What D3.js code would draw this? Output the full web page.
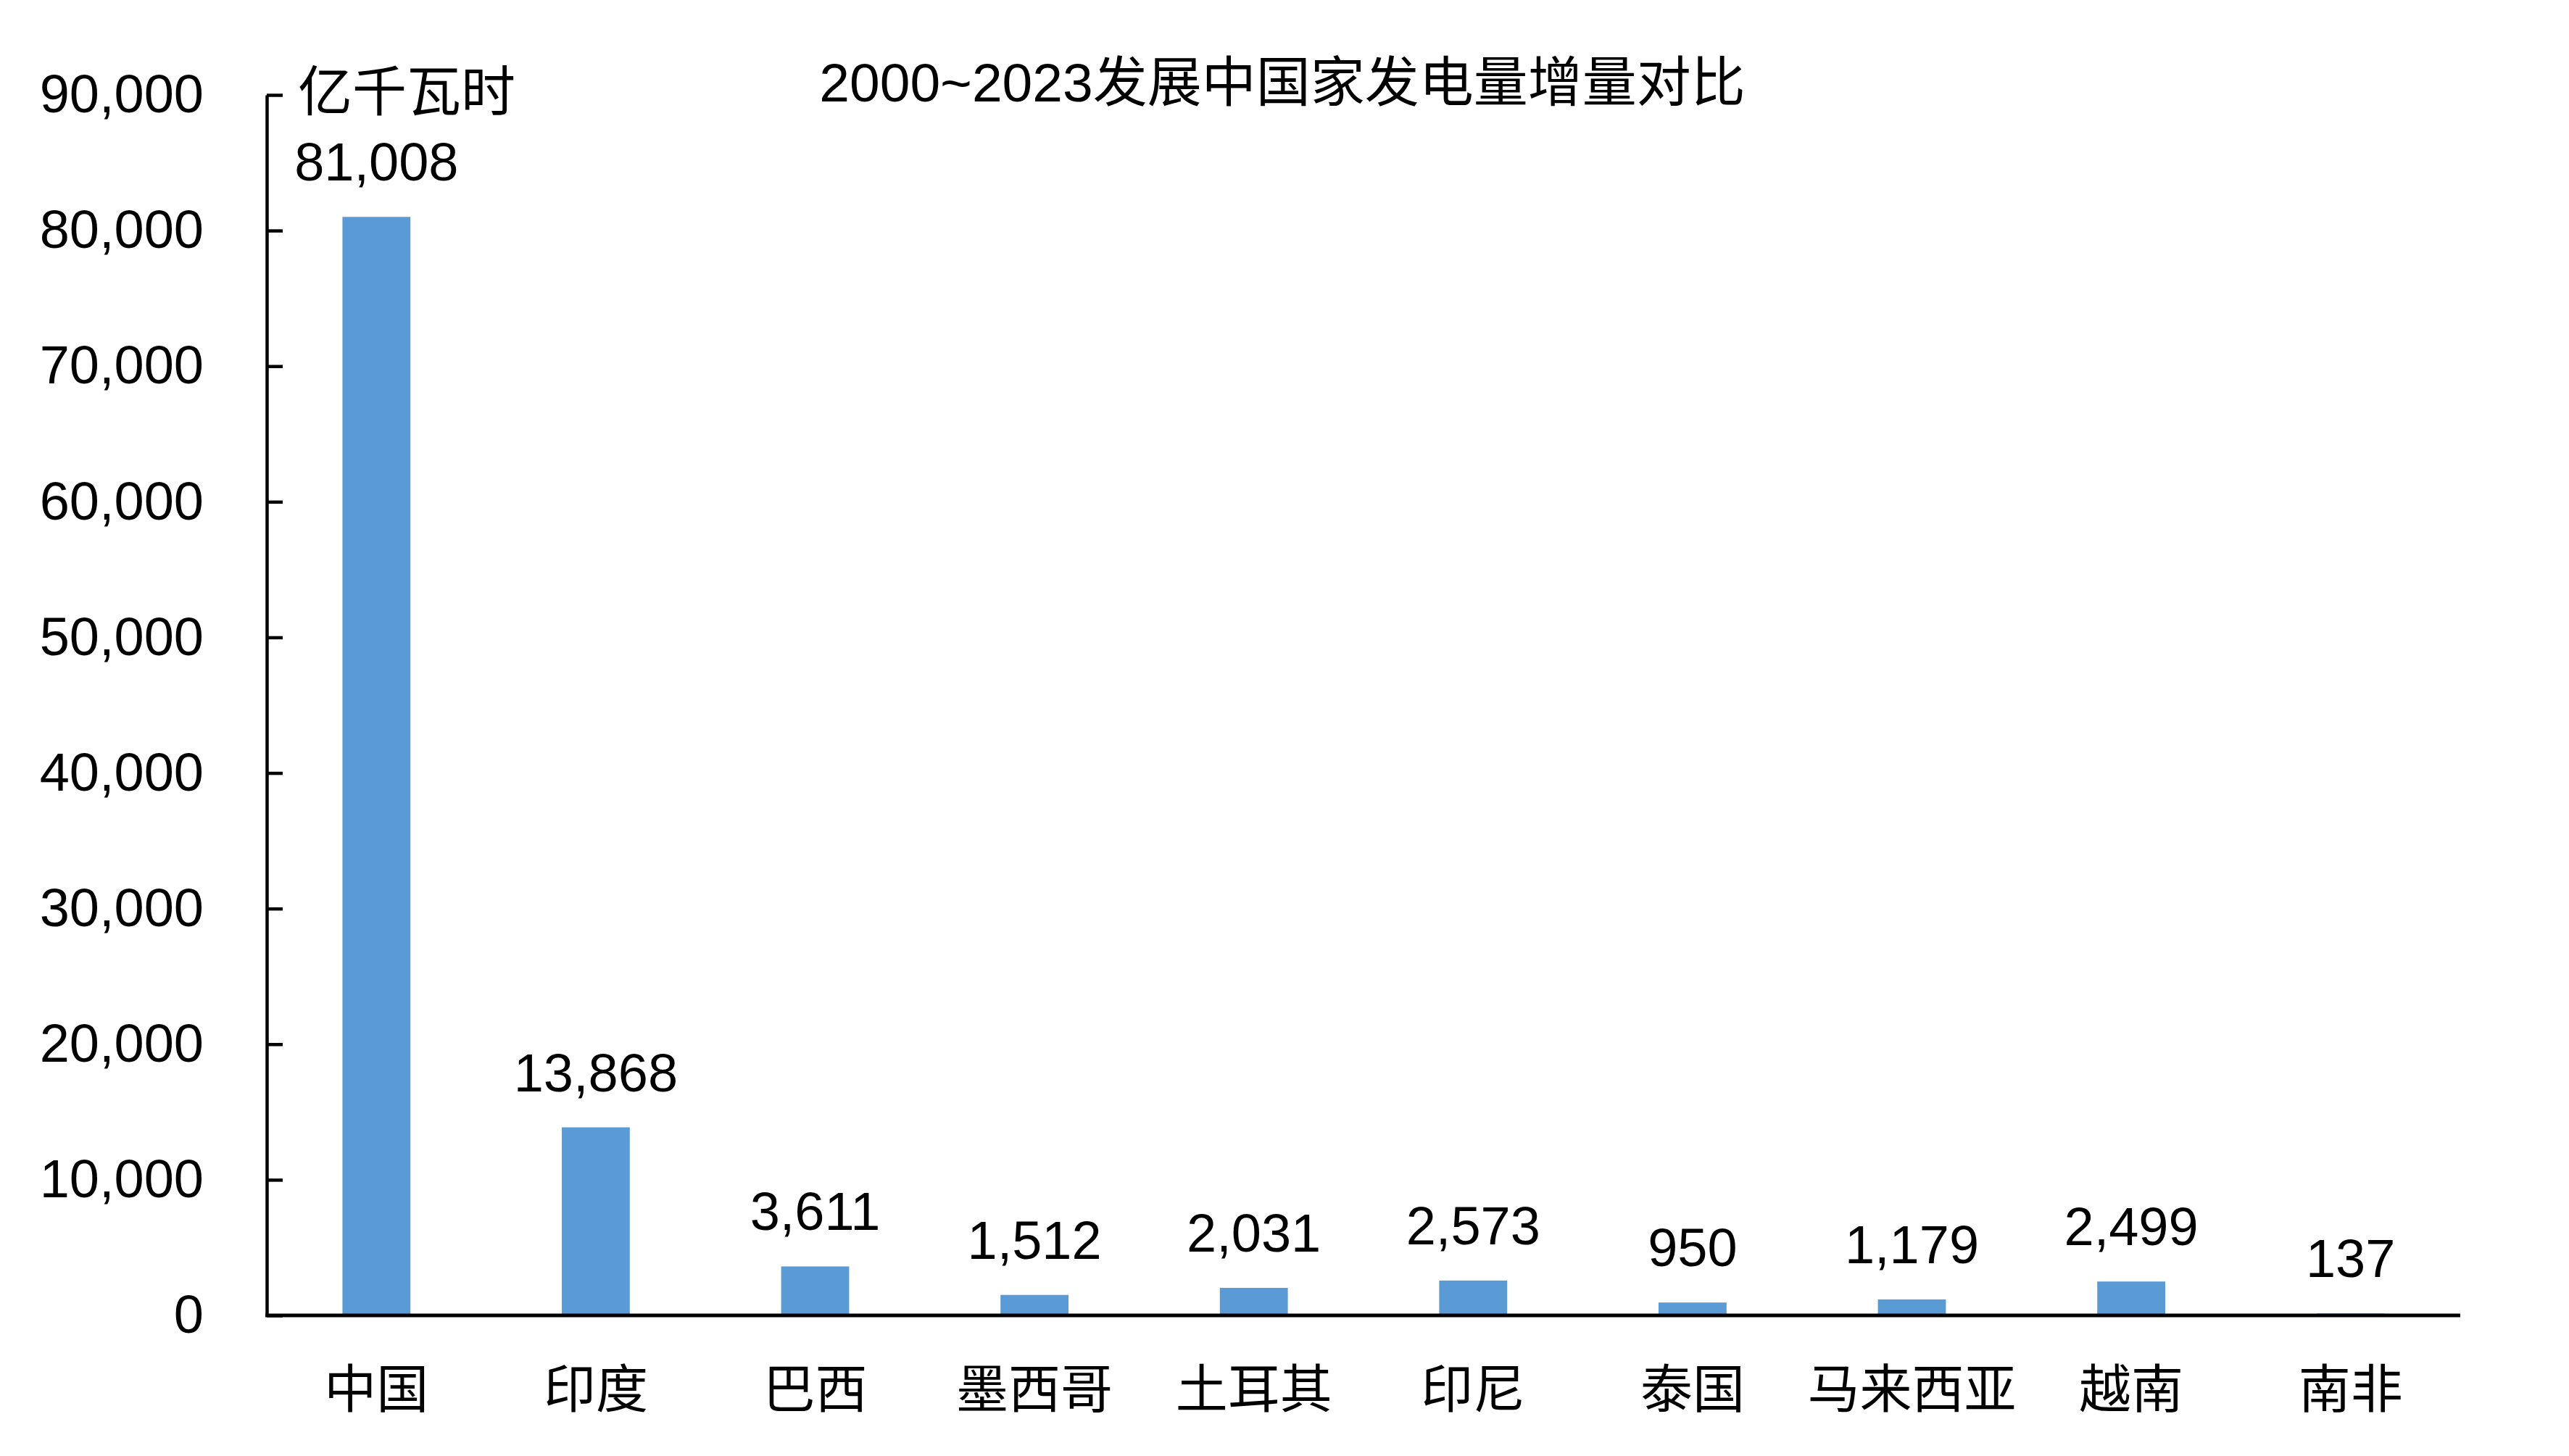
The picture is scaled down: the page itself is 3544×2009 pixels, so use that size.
<!DOCTYPE html>
<html>
<head>
<meta charset="utf-8">
<script src="https://cdn.jsdelivr.net/npm/d3@7"></script>
<style>
  html, body { margin: 0; padding: 0; background: #fff; }
  svg { display: block; }
</style>
</head>
<body>
<script>
const categories = ['中国','印度','巴西','墨西哥','土耳其','印尼','泰国','马来西亚','越南','南非'];
const values = [81008, 13868, 3611, 1512, 2031, 2573, 950, 1179, 2499, 137];
const yTicks = [0, 10000, 20000, 30000, 40000, 50000, 60000, 70000, 80000, 90000];
const titleText = '2000~2023发展中国家发电量增量对比';
const unitText = '亿千瓦时';

const W = 3544, H = 2009;
const plotLeft = 368, plotRight = 3394, plotTop = 131, plotBottom = 1815;
const FONT = '"Liberation Sans", Arial, "Noto Sans CJK SC", sans-serif';
const CJK = '"Noto Sans CJK SC", sans-serif';

const svg = d3.select('body').append('svg').attr('width', W).attr('height', H);

const x = d3.scaleBand().domain(categories).range([plotLeft, plotRight]).paddingInner(0.69).paddingOuter(0.345);
const y = d3.scaleLinear().domain([0, 90000]).range([plotBottom, plotTop]);

// bars
svg.append('g').selectAll('rect').data(categories).join('rect')
  .attr('x', d => x(d))
  .attr('width', x.bandwidth())
  .attr('y', (d, i) => y(values[i]))
  .attr('height', (d, i) => y(0) - y(values[i]))
  .attr('fill', '#5B9BD5');

// value labels
const fmt = d3.format(',');
svg.append('g').selectAll('text').data(categories).join('text')
  .attr('x', d => x(d) + x.bandwidth() / 2)
  .attr('y', (d, i) => y(values[i]) - 50)
  .attr('text-anchor', 'middle')
  .attr('font-family', FONT)
  .attr('font-size', 74)
  .attr('fill', '#000')
  .text((d, i) => fmt(values[i]));

// y axis
const yAxis = d3.axisLeft(y).tickValues(yTicks).tickFormat(fmt)
  .tickSizeInner(-22).tickSizeOuter(0).tickPadding(87);
const gy = svg.append('g').attr('transform', `translate(${plotLeft},0)`).call(yAxis);
gy.select('.domain').attr('stroke', '#000').attr('stroke-width', 4.5);
gy.selectAll('.tick line').attr('stroke', '#000').attr('stroke-width', 4.5);
gy.selectAll('.tick text').attr('font-family', FONT).attr('font-size', 74).attr('fill', '#000');

// x axis
const xAxis = d3.axisBottom(x).tickSize(0).tickPadding(0);
const gx = svg.append('g').attr('transform', `translate(0,${plotBottom})`).call(xAxis);
gx.select('.domain').attr('stroke', '#000').attr('stroke-width', 5)
  .attr('d', `M${plotLeft - 2},0H${plotRight}`);
gx.selectAll('.tick text').attr('font-family', CJK).attr('font-size', 72).attr('fill', '#000')
  .attr('dy', null).attr('y', 95).attr('dominant-baseline', 'central');

// title
svg.append('text')
  .attr('x', 1769).attr('y', 114)
  .attr('text-anchor', 'middle').attr('dominant-baseline', 'central')
  .attr('font-family', FONT).attr('font-size', 75).attr('fill', '#000')
  .text(titleText);

// unit
svg.append('text')
  .attr('x', 411).attr('y', 120)
  .attr('text-anchor', 'start').attr('dominant-baseline', 'central')
  .attr('font-family', CJK).attr('font-size', 75).attr('fill', '#000')
  .text(unitText);
</script>
</body>
</html>
